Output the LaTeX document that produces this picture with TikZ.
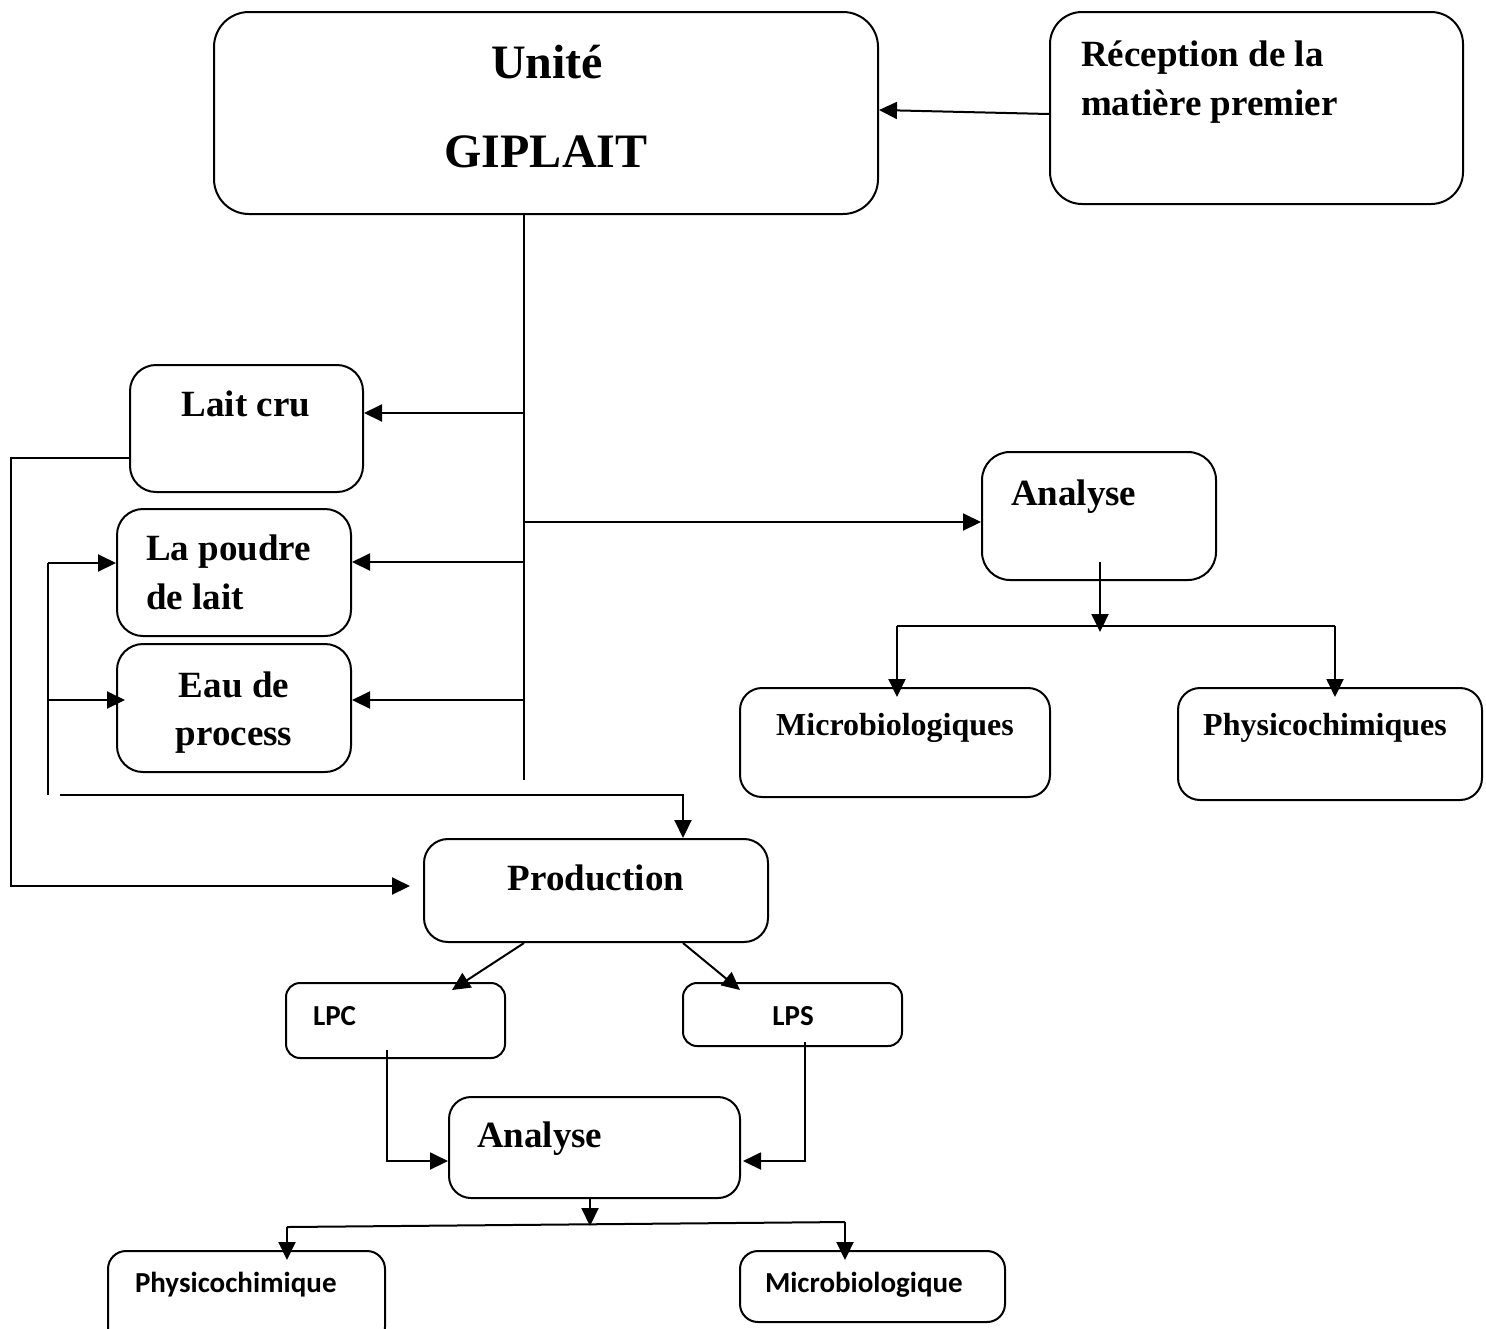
\documentclass[tikz,border=0pt]{standalone}
\usepackage{fontspec}
\setmainfont{Liberation Serif}
\newfontfamily\calfont{Carlito}
\usetikzlibrary{arrows.meta,fit,calc}
\begin{document}
\begin{tikzpicture}[x=0.5pt,y=-0.5pt,line width=1pt,
  box/.style={draw,inner sep=0pt,fit={#1}},
  arr/.style={-{Triangle[length=9pt,width=8.5pt]}},
  big/.style={font=\fontsize{24}{28}\selectfont\bfseries,inner sep=0pt},
  mid/.style={font=\fontsize{18.5}{22}\selectfont\bfseries,inner sep=0pt},
  sml/.style={font=\fontsize{16}{19}\selectfont\bfseries,inner sep=0pt},
  sns/.style={font=\calfont\fontsize{14.5}{17}\selectfont\bfseries,inner sep=0pt}]
\clip (0,0) rectangle (1486,1328);
% boxes
\node[box={(214,12) (878,214)},rounded corners=17.5pt] (u) {};
\node[box={(1050,12) (1463,204)},rounded corners=16pt] (rec) {};
\node[box={(130,365) (363,492)},rounded corners=13pt] (lc) {};
\node[box={(117,509) (351,636)},rounded corners=13pt] (pd) {};
\node[box={(117,644) (351,772)},rounded corners=13pt] (eau) {};
\node[box={(982,452) (1216,580)},rounded corners=14pt] (an1) {};
\node[box={(740,688) (1050,797)},rounded corners=11pt] (mic) {};
\node[box={(1178,688) (1482,800)},rounded corners=11pt] (phy) {};
\node[box={(424,839) (768,942)},rounded corners=12pt] (prod) {};
\node[box={(286,983) (505,1058)},rounded corners=7pt] (lpc) {};
\node[box={(683,983) (902,1046)},rounded corners=7pt] (lps) {};
\node[box={(449,1097) (740,1198)},rounded corners=11pt] (an2) {};
\node[box={(108,1251) (385,1345)},rounded corners=9pt] (pc) {};
\node[box={(740,1251) (1005,1322)},rounded corners=9pt] (mb) {};
% texts
\node[big,anchor=base] (tu1) at (547,78) {Unité};
\node[big,anchor=base] (tu2) at (546,167) {GIPLAIT};
\node[mid,anchor=base west] (tr1) at (1080,66) {Réception de la};
\node[mid,anchor=base west] (tr2) at (1080,115) {matière premier};
\node[mid,anchor=base] (tlc) at (246,416) {Lait cru};
\node[mid,anchor=base west] (tpd1) at (145,560) {La poudre};
\node[mid,anchor=base west] (tpd2) at (145,609) {de lait};
\node[mid,anchor=base] (te1) at (234,697) {Eau de};
\node[mid,anchor=base] (te2) at (234,745) {process};
\node[mid,anchor=base west] (ta1) at (1010,505) {Analyse};
\node[sml,anchor=base] (tmic) at (895,735) {Microbiologiques};
\node[sml,anchor=base] (tphy) at (1325,735) {Physicochimiques};
\node[mid,anchor=base] (tprod) at (596,890) {Production};
\node[sns,anchor=base west] (tlpc) at (312,1025) {LPC};
\node[sns,anchor=base] (tlps) at (793,1025) {LPS};
\node[mid,anchor=base west] (ta2) at (476,1147) {Analyse};
\node[sns,anchor=base west] (tpc) at (134,1292) {Physicochimique};
\node[sns,anchor=base west] (tmb) at (764,1292) {Microbiologique};
% junction coordinates
\coordinate (t0) at (524,214);
\coordinate (t1) at (524,780);
% connectors
\draw[arr] ([yshift=-3pt]rec.west) -- ([yshift=1.5pt]u.east);
\draw (t0) -- (t1);
\draw[arr] (t0 |- 0,413) -- (lc.east |- 0,413);
\draw[arr] (t0 |- 0,562) -- (pd.east |- 0,562);
\draw[arr] (t0 |- 0,700) -- (eau.east |- 0,700);
\draw[arr] (t0 |- 0,522) -- (an1.west |- 0,522);
\draw[arr] (1100,562) -- (1100,632);
\draw (897,626) -- (1335,626);
\draw[arr] (897,626) -- (897,697);
\draw[arr] (1335,626) -- (1335,697);
\draw[arr] (lc.west |- 0,458) -- (11,458) -- (11,886) -- (410,886);
\draw (48,563) -- (48,795);
\draw[arr] (48,563) -- (pd.west |- 0,563);
\draw[arr] (48,700) -- (125,700);
\draw[arr] (60,795) -- (683,795) -- (prod.north -| 683,0);
\draw[arr] (prod.south -| 524,0) -- (452,990);
\draw[arr] (prod.south -| 683,0) -- (740,990);
\draw[arr] (387,1050) -- (387,1161) -- (an2.west |- 0,1161);
\draw[arr] (805,1042) -- (805,1161) -- ([xshift=1pt]an2.east |- 0,1161);
\draw[arr] (an2.south -| 590,0) -- (590,1226);
\draw (287,1227) -- (845,1222);
\draw[arr] (287,1227) -- (287,1260);
\draw[arr] (845,1222) -- (845,1260);
\end{tikzpicture}
\end{document}
